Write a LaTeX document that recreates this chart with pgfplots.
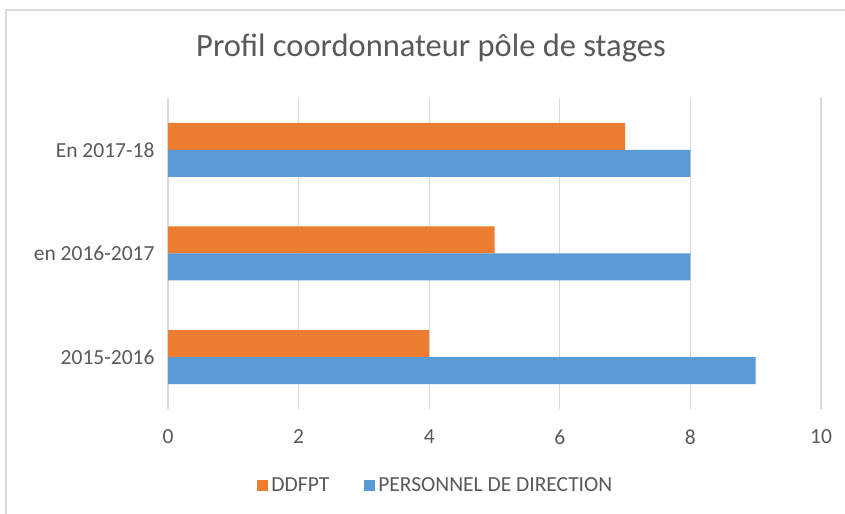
\documentclass[border=0pt]{standalone}
\usepackage{pgfplots}
\pgfplotsset{compat=1.18}
\usepackage{fontspec}
\setmainfont{Carlito}
\definecolor{txt}{HTML}{595959}
\definecolor{grd}{HTML}{D9D9D9}
\definecolor{cor}{HTML}{ED7D31}
\definecolor{cbl}{HTML}{5B9BD5}
\begin{document}
\begin{tikzpicture}[x=1bp,y=1bp]
\path[use as bounding box] (0,0) rectangle (845,514);
\fill[white] (0,0) rectangle (845,514);
\draw[grd, line width=1.2bp] (6,0) -- (6,504) -- (845,504);
\node[text=txt, font=\fontsize{32.5bp}{36bp}\selectfont] at (431,466) {Profil coordonnateur pôle de stages};
\begin{axis}[
  at={(168bp,105bp)}, anchor=south west,
  scale only axis, width=653bp, height=311bp,
  xmin=0, xmax=10, ymin=-0.5, ymax=2.5,
  xtick={0,2,4,6,8,10},
  ytick={0,1,2},
  yticklabels={2015-2016, en 2016-2017, En 2017-18},
  axis line style={draw=none},
  major tick length=0pt,
  xmajorgrids, major grid style={grd, line width=1.2bp},
  tick label style={text=txt, font=\fontsize{21.5bp}{24bp}\selectfont},
  /pgf/number format/assume math mode=true,
  yticklabel style={xshift=-10bp},
  xticklabel style={yshift=-17bp},
  xbar, bar width=27bp,
  legend style={at={(0.411,-0.245)}, anchor=center, draw=none, legend columns=2,
    font=\fontsize{21.5bp}{24bp}\selectfont, text=txt,
    nodes={inner xsep=3.5bp},
    /tikz/every even column/.append style={column sep=31bp}},
  legend image code/.code={\fill[#1] (0bp,-5.5bp) rectangle (11bp,5.5bp);},
]
\addplot[fill=cor, draw=none, bar shift=13.5bp] coordinates {(4,0) (5,1) (7,2)};
\addlegendentry{DDFPT}
\addplot[fill=cbl, draw=none, bar shift=-13.5bp] coordinates {(9,0) (8,1) (8,2)};
\addlegendentry{PERSONNEL DE DIRECTION}
\end{axis}
\end{tikzpicture}
\end{document}
